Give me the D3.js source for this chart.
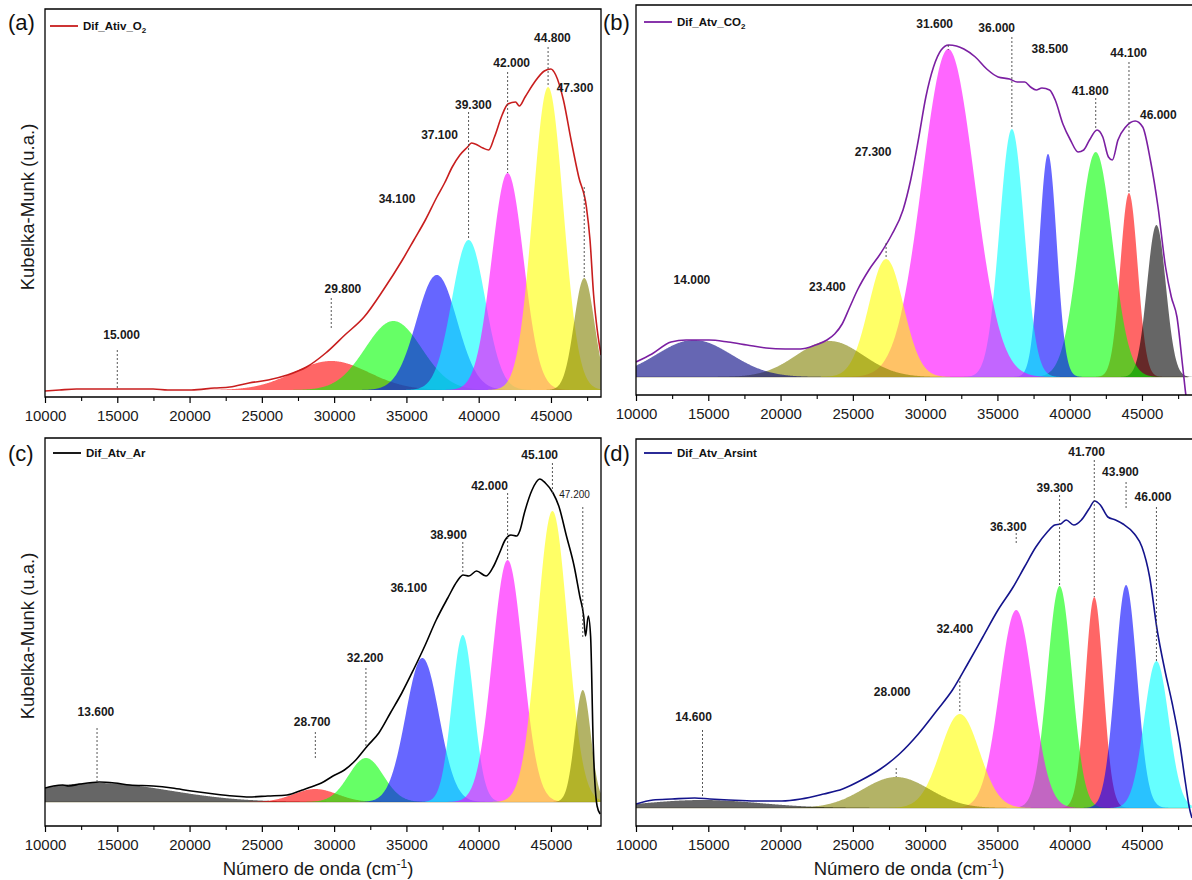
<!DOCTYPE html>
<html>
<head>
<meta charset="utf-8">
<script src="https://cdn.jsdelivr.net/npm/d3@7/dist/d3.min.js"></script>
<style>
  body { margin: 0; background: #fff; }
  svg { display: block; font-family: Arial, "Liberation Sans", sans-serif; }
</style>
</head>
<body>
<svg id="fig" width="1192" height="880"></svg>
<script>
// ---------- shared wavenumber axis ----------
const xDomain = [10000, 48460];
const xTicks = [10000, 15000, 20000, 25000, 30000, 35000, 40000, 45000];
const xMinorTicks = [12500, 17500, 22500, 27500, 32500, 37500, 42500, 47500];

// ---------- measured spectra [wavenumber cm-1, Kubelka-Munk u.a.] ----------
const spectrumA = [
  [10000,-0.01],[11000,0.00],[12175,0.01],[14000,0.01],[17480,0.01],[18500,0.00],[20130,0.00],
  [21720,0.02],[22790,0.03],[24110,0.07],[25440,0.10],[26760,0.15],[28090,0.23],[29420,0.37],
  [30740,0.55],[32070,0.73],[33400,1.00],[34720,1.30],[35520,1.50],[36310,1.70],[37110,1.93],
  [37640,2.07],[38170,2.23],[38700,2.35],[39230,2.43],[39500,2.47],[39760,2.46],[40290,2.42],
  [40690,2.40],[41090,2.53],[41620,2.75],[42020,2.86],[42550,2.88],[42810,2.84],[43210,2.93],
  [43870,3.08],[44540,3.19],[44990,3.21],[45330,3.15],[45860,2.90],[46390,2.50],[46920,2.13],
  [47450,1.83],[47700,1.50],[47950,0.95],[48200,0.60],[48460,0.35]
];
const spectrumB = [
  [10000,0.15],[11100,0.23],[12420,0.35],[13470,0.37],[15050,0.37],[16370,0.35],[17680,0.32],
  [19000,0.29],[20320,0.28],[21370,0.28],[22420,0.32],[23210,0.37],[23740,0.43],[24260,0.53],
  [24790,0.70],[25320,0.87],[26110,1.07],[26890,1.23],[27680,1.42],[28470,1.67],[29000,1.97],
  [29530,2.37],[30050,2.80],[30580,3.10],[31110,3.27],[31630,3.32],[32160,3.31],[32680,3.28],
  [33470,3.20],[34260,3.08],[35050,3.00],[35840,2.98],[36370,2.95],[36890,2.95],[37290,2.90],
  [37680,2.87],[38080,2.89],[38610,2.87],[39000,2.77],[39530,2.53],[40050,2.37],[40580,2.25],
  [40970,2.27],[41370,2.37],[41890,2.47],[42290,2.40],[42680,2.20],[42950,2.17],[43340,2.37],
  [43870,2.50],[44530,2.56],[45050,2.50],[45580,2.17],[46110,1.70],[46630,1.10],[47030,0.80],
  [47420,0.60],[47820,0.10],[48080,-0.23],[48340,-0.43]
];
const spectrumC = [
  [10000,0.14],[10580,0.16],[11240,0.17],[11640,0.16],[12440,0.18],[13760,0.20],[14820,0.19],
  [15880,0.17],[17470,0.16],[18790,0.14],[20120,0.11],[21710,0.08],[23030,0.06],[24090,0.05],
  [25410,0.06],[26740,0.07],[27800,0.12],[28590,0.16],[29120,0.19],[29920,0.26],[30710,0.32],
  [31500,0.42],[32300,0.56],[33090,0.69],[33890,0.89],[34680,1.09],[35480,1.32],[36270,1.56],
  [37060,1.82],[37860,2.04],[38520,2.21],[38920,2.27],[39320,2.26],[39850,2.31],[40510,2.26],
  [41040,2.36],[41440,2.49],[41830,2.62],[42230,2.67],[42630,2.66],[42840,2.71],[43160,2.89],
  [43690,3.12],[44220,3.23],[44610,3.19],[45140,3.09],[45540,2.96],[46070,2.66],[46600,2.36],
  [46990,2.06],[47260,1.86],[47390,1.66],[47580,1.86],[47740,1.66],[47920,0.59],[48190,-0.04],
  [48400,-0.12]
];
const spectrumD = [
  [10000,0.04],[11180,0.08],[12490,0.09],[14060,0.10],[15110,0.09],[16420,0.08],[18260,0.07],
  [20090,0.07],[21410,0.09],[22980,0.14],[24290,0.19],[25600,0.28],[26910,0.39],[28220,0.54],
  [29530,0.74],[30840,0.98],[31890,1.18],[32940,1.44],[33990,1.71],[35040,1.98],[36090,2.21],
  [36870,2.41],[37660,2.61],[38450,2.76],[38970,2.83],[39370,2.84],[39760,2.88],[40280,2.83],
  [40810,2.88],[41330,2.99],[41730,3.07],[42120,3.03],[42640,2.91],[43170,2.88],[43690,2.84],
  [44480,2.74],[45000,2.61],[45530,2.31],[46050,1.78],[46580,1.38],[47100,1.04],[47620,0.64],
  [48020,0.24],[48280,0.00],[48460,-0.10]
];

// ---------- fitted Gaussian bands (listed in drawing order) ----------
// centre (cm-1), height (u.a.), standard deviation (cm-1)
const bandCentersA = [29800, 34100, 37100, 39300, 42000, 44800, 47300];
const bandHeightsA = [0.29, 0.69, 1.15, 1.50, 2.17, 3.03, 1.12];
const bandSigmasA  = [2600, 1950, 1400, 1150, 1100, 1050, 700];

const bandCentersB = [44100, 46000, 41800, 38500, 36000, 31600, 27300, 23400, 14000];
const bandHeightsB = [1.84, 1.52, 2.25, 2.23, 2.48, 3.28, 1.18, 0.36, 0.37];
const bandSigmasB  = [600, 650, 1150, 600, 850, 1800, 1200, 2300, 2600];

const bandCentersC = [13600, 28700, 32200, 36100, 38900, 42000, 45100, 47200];
const bandHeightsC = [0.19, 0.13, 0.44, 1.44, 1.67, 2.42, 2.91, 1.12];
const bandSigmasC  = [5000, 1500, 1200, 1150, 750, 1050, 1050, 550];

const bandCentersD = [41700, 39300, 43900, 46000, 36300, 32400, 28000, 14600];
const bandHeightsD = [2.11, 2.22, 2.23, 1.47, 1.98, 0.94, 0.31, 0.08];
const bandSigmasD  = [620, 850, 750, 850, 1150, 1350, 2300, 4000];

// band fill colours, same order as above
const bandColorsA = ["#ff0000", "#00ff00", "#0000ff", "#00ffff", "#ff00ff", "#ffff00", "#808000"];
const bandColorsB = ["#ff0000", "#000000", "#00ff00", "#0000ff", "#00ffff", "#ff00ff", "#ffff00", "#808000", "#000080"];
const bandColorsC = ["#000000", "#ff0000", "#00ff00", "#0000ff", "#00ffff", "#ff00ff", "#ffff00", "#808000"];
const bandColorsD = ["#ff0000", "#00ff00", "#0000ff", "#00ffff", "#ff00ff", "#ffff00", "#808000", "#000000"];

// ---------- band labels ----------
// labelled wavenumber, text centre x (cm-1), text centre y (u.a.), leader top, leader bottom
const notesA = [
  [15000, 15300, 0.55, 0.40, 0.02],
  [29800, 30610, 1.01, 0.92, 0.62],
  [34100, 34350, 1.91, null, null],
  [37100, 37290, 2.55, null, null],
  [39300, 39630, 2.85, 2.78, 1.50],
  [42000, 42280, 3.27, 3.18, 2.17],
  [44800, 45100, 3.52, 3.43, 3.03],
  [47300, 46660, 3.02, 2.03, 1.12]
];
const notesB = [
  [14000, 13870, 0.97, null, null],
  [23400, 23240, 0.90, null, null],
  [27300, 26400, 2.25, 1.34, 1.19],
  [31600, 30660, 3.53, 3.32, 3.27],
  [36000, 34950, 3.49, 3.40, 2.49],
  [38500, 38630, 3.28, null, null],
  [41800, 41420, 2.86, 2.79, 2.47],
  [44100, 44080, 3.24, 3.15, 1.84],
  [46000, 46130, 2.62, null, null]
];
const notesC = [
  [13600, 13520, 0.90, 0.74, 0.20],
  [28700, 28480, 0.80, 0.70, 0.44],
  [32200, 32140, 1.44, 1.34, 0.55],
  [36100, 35160, 2.14, null, null],
  [38900, 37910, 2.67, 2.60, 2.29],
  [42000, 40750, 3.16, 3.09, 2.41],
  [45100, 44220, 3.47, 3.39, 3.09],
  [47200, 46630, 3.08, 2.95, 1.65]
];
const notesD = [
  [14600, 13980, 0.91, 0.78, 0.11],
  [28000, 27720, 1.16, 0.40, 0.31],
  [32400, 32050, 1.79, 1.31, 0.95],
  [36300, 35750, 2.81, 2.75, 2.63],
  [39300, 38970, 3.20, 3.13, 2.22],
  [41700, 41170, 3.56, 3.48, 2.11],
  [43900, 43510, 3.36, 3.26, 2.98],
  [46000, 45760, 3.11, 3.01, 1.47]
];

// ---------- panel set-up ----------
const panels = [
  { key: "(a)", name: ["Dif_Ativ_O", "2"], color: "#c81e1e",
    box: { l: 45, r: 601, t: 9, b: 397 }, yDomain: [-0.07, 3.81],
    spectrum: spectrumA, centers: bandCentersA, heights: bandHeightsA, sigmas: bandSigmasA,
    colors: bandColorsA, notes: notesA, baseline: false, yTitle: true, xTitle: false,
    keyPos: [8, 30], legendPos: [50, 26] },
  { key: "(b)", name: ["Dif_Atv_CO", "2"], color: "#7b1fa2",
    box: { l: 636, r: 1193, t: 5, b: 395 }, yDomain: [-0.18, 3.72],
    spectrum: spectrumB, centers: bandCentersB, heights: bandHeightsB, sigmas: bandSigmasB,
    colors: bandColorsB, notes: notesB, baseline: true, yTitle: false, xTitle: false,
    keyPos: [603, 30], legendPos: [644, 22] },
  { key: "(c)", name: ["Dif_Atv_Ar", ""], color: "#000000",
    box: { l: 45, r: 601, t: 438, b: 826 }, yDomain: [-0.24, 3.64],
    spectrum: spectrumC, centers: bandCentersC, heights: bandHeightsC, sigmas: bandSigmasC,
    colors: bandColorsC, notes: notesC, baseline: true, yTitle: true, xTitle: true,
    keyPos: [8, 461], legendPos: [53, 453] },
  { key: "(d)", name: ["Dif_Atv_Arsint", ""], color: "#14148c",
    box: { l: 636, r: 1193, t: 439, b: 826 }, yDomain: [-0.18, 3.69],
    spectrum: spectrumD, centers: bandCentersD, heights: bandHeightsD, sigmas: bandSigmasD,
    colors: bandColorsD, notes: notesD, baseline: true, yTitle: false, xTitle: true,
    keyPos: [603, 461], legendPos: [644, 453] }
];

const svg = d3.select("#fig");
const labelFmt = v => d3.format(",")(v).replace(",", ".");

panels.forEach((p, i) => {
  const { l, r, t, b } = p.box;
  const x = d3.scaleLinear().domain(xDomain).range([l, l + 556]);
  const y = d3.scaleLinear().domain(p.yDomain).range([b, t]);
  const g = svg.append("g");

  const clipId = "clip" + i;
  g.append("clipPath").attr("id", clipId)
    .append("rect").attr("x", l).attr("y", t).attr("width", r - l).attr("height", b - t);
  const plot = g.append("g").attr("clip-path", `url(#${clipId})`);

  // fit baseline
  if (p.baseline) {
    plot.append("line")
      .attr("x1", x(xDomain[0])).attr("x2", x(48200))
      .attr("y1", y(0)).attr("y2", y(0))
      .attr("stroke", "#b8b49a").attr("stroke-width", 1.2);
  }

  // Gaussian bands
  const grid = d3.range(xDomain[0], xDomain[1] + 1, 40);
  const area = d3.area().x(d => x(d[0])).y0(y(0)).y1(d => y(d[1]));
  p.centers.forEach((c, k) => {
    const h = p.heights[k], s = p.sigmas[k];
    const pts = grid.map(w => [w, h * Math.exp(-((w - c) * (w - c)) / (2 * s * s))]);
    plot.append("path").attr("d", area(pts))
      .attr("fill", p.colors[k]).attr("fill-opacity", 0.6).attr("stroke", "none");
  });

  // measured spectrum
  const line = d3.line().x(d => x(d[0])).y(d => y(d[1])).curve(d3.curveMonotoneX);
  plot.append("path").attr("d", line(p.spectrum))
    .attr("fill", "none").attr("stroke", p.color).attr("stroke-width", 1.6);

  // band labels with dashed leaders
  p.notes.forEach(n => {
    const [val, tx, ty, y1, y2] = n;
    if (y1 !== null) {
      g.append("line")
        .attr("x1", x(val)).attr("x2", x(val)).attr("y1", y(y1)).attr("y2", y(y2))
        .attr("stroke", "#444").attr("stroke-width", 0.9).attr("stroke-dasharray", "2,2");
    }
    const small = (p.key === "(c)" && val === 47200);
    g.append("text")
      .attr("x", x(tx)).attr("y", y(ty) + (small ? 3.5 : 4.3))
      .attr("text-anchor", "middle")
      .attr("font-size", small ? 10 : 12)
      .attr("font-weight", small ? "normal" : "bold")
      .attr("fill", "#1a1a1a")
      .text(labelFmt(val));
  });

  // frame
  g.append("path")
    .attr("d", `M${l},${b}V${t}H${r}V${b}Z`)
    .attr("fill", "none").attr("stroke", "#000").attr("stroke-width", 1.3);

  // x axis (major + minor ticks, outward)
  const axis = g.append("g").attr("transform", `translate(0,${b})`)
    .call(d3.axisBottom(x).tickValues(xTicks).tickSize(6).tickSizeOuter(0).tickPadding(7)
      .tickFormat(d3.format("d")));
  axis.select(".domain").remove();
  axis.selectAll("line").attr("stroke", "#000").attr("stroke-width", 1.2);
  axis.selectAll("text").attr("font-size", 15).attr("fill", "#1a1a1a")
    .attr("font-family", "Arial, 'Liberation Sans', sans-serif");
  const minor = g.append("g").attr("transform", `translate(0,${b})`)
    .call(d3.axisBottom(x).tickValues(xMinorTicks).tickSize(4).tickSizeOuter(0).tickFormat(""));
  minor.select(".domain").remove();
  minor.selectAll("line").attr("stroke", "#000").attr("stroke-width", 1.1);

  // panel key
  g.append("text").attr("x", p.keyPos[0]).attr("y", p.keyPos[1])
    .attr("font-size", 22).attr("fill", "#111").text(p.key);

  // legend
  const [lx, ly] = p.legendPos;
  g.append("line").attr("x1", lx).attr("x2", lx + 28).attr("y1", ly).attr("y2", ly)
    .attr("stroke", p.color).attr("stroke-width", 1.8);
  const lt = g.append("text").attr("x", lx + 33).attr("y", ly + 4)
    .attr("font-size", 11.5).attr("font-weight", "bold").attr("fill", "#111");
  lt.append("tspan").text(p.name[0]);
  if (p.name[1]) {
    lt.append("tspan").attr("font-size", 8).attr("dy", 3).text(p.name[1]);
  }

  // axis titles
  if (p.yTitle) {
    g.append("text")
      .attr("transform", `translate(34,${(t + b) / 2 + 4}) rotate(-90)`)
      .attr("text-anchor", "middle").attr("font-size", 18.5).attr("fill", "#1a1a1a")
      .text("Kubelka-Munk (u.a.)");
  }
  if (p.xTitle) {
    const xt = g.append("text")
      .attr("x", (l + l + 556) / 2 - 5).attr("y", 875)
      .attr("text-anchor", "middle").attr("font-size", 18.5).attr("fill", "#1a1a1a");
    xt.append("tspan").text("Número de onda (cm");
    xt.append("tspan").attr("font-size", 12).attr("dy", -7).text("-1");
    xt.append("tspan").attr("dy", 7).text(")");
  }
});
</script>
</body>
</html>
